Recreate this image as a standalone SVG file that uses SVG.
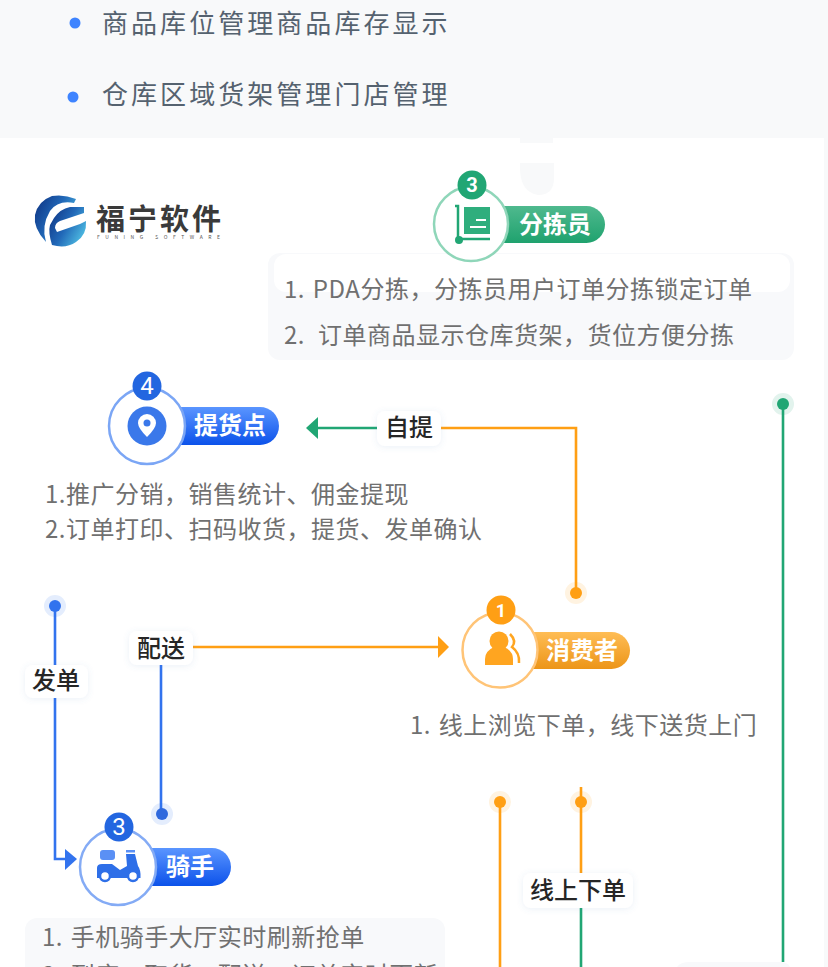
<svg xmlns="http://www.w3.org/2000/svg" width="828" height="967" viewBox="0 0 828 967">
<style>
text{font-family:"Noto Sans CJK SC","Noto Sans",sans-serif}
.top{font-size:26px;fill:#55626f;letter-spacing:3.05px}
.body{font-size:24px;fill:#707070;letter-spacing:.5px;word-spacing:2px}
.lab{font-size:24px;fill:#262626;font-weight:500;text-anchor:middle}
.pill{font-size:24px;fill:#fff;font-weight:700;text-anchor:middle}
.badge{fill:#fff;text-anchor:middle;font-family:"Roboto",sans-serif}
.ln{fill:none;stroke-width:2.6}
.o{stroke:#ff9f14}.g{stroke:#21a674}.b{stroke:#3273ee}
.ring{fill:#fff;stroke-width:2.5}
.panel{fill:#f8f9fb}
</style>
<defs>
<linearGradient id="pb" x1="0" y1="0" x2="0" y2="1"><stop offset="0" stop-color="#5a95ff"/><stop offset="1" stop-color="#0c52ea"/></linearGradient>
<linearGradient id="pg" x1="0" y1="0" x2="0" y2="1"><stop offset="0" stop-color="#4fb98e"/><stop offset="1" stop-color="#1fa26e"/></linearGradient>
<linearGradient id="po" x1="0" y1="0" x2="0" y2="1"><stop offset="0" stop-color="#ffbd55"/><stop offset="1" stop-color="#ec9518"/></linearGradient>
<linearGradient id="lg" x1="0" y1="0" x2="1" y2="0.6"><stop offset="0" stop-color="#0d2f7e"/><stop offset=".55" stop-color="#2168b8"/><stop offset="1" stop-color="#4cb8e0"/></linearGradient>
<filter id="sh" x="-20%" y="-30%" width="140%" height="160%"><feDropShadow dx="0" dy="1" stdDeviation="3" flood-color="#5b7fc0" flood-opacity=".12"/></filter>
</defs>

<rect width="828" height="967" fill="#f8f9fa"/>
<rect x="0" y="138" width="824" height="829" fill="#fff"/>
<rect x="520" y="138" width="33" height="5" fill="#f8f9fa"/>
<path d="M520 163H554V178Q554 195 538 195Q521 192 520 170Z" fill="#f8f9fa"/>

<g id="intro">
<circle cx="75" cy="23" r="5.500" fill="#3e84ff"/>
<text class="top" x="102" y="33">商品库位管理商品库存显示</text>
<circle cx="73" cy="97" r="5.500" fill="#3e84ff"/>
<text class="top" x="102" y="104">仓库区域货架管理门店管理</text>
</g>

<g id="logo">
<path d="M52 196Q64 194 76 199L74 203Q58 200 50 211Q41 226 46 242Q33 228 35 215Q38 201 52 196Z" fill="url(#lg)"/>
<path d="M54 218Q60 209 70 207L84 207L84 213L60 221Q55 223 55 228L57 232L80 224L86 221Q87 235 76 242Q66 249 52 245Q48 232 50 225Z" fill="url(#lg)"/>
<text x="96" y="230" font-size="29" font-weight="700" fill="#3a3a3a" textLength="125" lengthAdjust="spacing">福宁软件</text>
<text x="97" y="239" font-size="5" fill="#555" textLength="123" lengthAdjust="spacing">FUNING SOFTWARE</text>
</g>

<g id="connectors">
<path class="ln g" d="M377 428H316"/>
<path d="M306 428L318 417V439Z" fill="#21a674"/>
<path class="ln o" d="M441 428H576V593"/>
<circle cx="576" cy="593" r="11" fill="#ff9f14" fill-opacity=".13"/>
<circle cx="576" cy="593" r="6" fill="#ff9f14"/>
<circle cx="783" cy="404" r="11" fill="#21a674" fill-opacity=".13"/>
<circle cx="783" cy="404" r="6" fill="#21a674"/>
<path class="ln g" d="M783 404V962"/>
<circle cx="55" cy="606" r="11" fill="#3273ee" fill-opacity=".13"/>
<circle cx="55" cy="606" r="6" fill="#3273ee"/>
<path class="ln b" d="M55 606V859H68"/>
<path d="M77 859L65 849V870Z" fill="#3273ee"/>
<path class="ln o" d="M193 647H440"/>
<path d="M449 647L438 636V658Z" fill="#ff9f14"/>
<path class="ln b" d="M161 665V814"/>
<circle cx="162" cy="814" r="11" fill="#3273ee" fill-opacity=".13"/>
<circle cx="162" cy="814" r="6" fill="#2f69dd"/>
<circle cx="500" cy="802" r="11" fill="#ff9f14" fill-opacity=".13"/>
<circle cx="500" cy="802" r="6" fill="#ff9f14"/>
<path class="ln o" d="M500 802V967"/>
<circle cx="581" cy="802" r="11" fill="#ff9f14" fill-opacity=".13"/>
<circle cx="581" cy="802" r="6" fill="#ff9f14"/>
<path class="ln o" d="M581 787V873"/>
<path class="ln g" d="M581 908V967"/>
</g>

<g id="label-ziti"><rect x="377" y="411" width="64" height="35" rx="8" fill="#fff" filter="url(#sh)"/><text class="lab" x="409" y="436">自提</text></g>
<g id="label-peisong"><rect x="129" y="631" width="64" height="34" rx="8" fill="#fff" filter="url(#sh)"/><text class="lab" x="161" y="657">配送</text></g>
<g id="label-fadan"><rect x="25" y="665" width="63" height="33" rx="8" fill="#fff" filter="url(#sh)"/><text class="lab" x="56" y="689">发单</text></g>
<g id="label-xianshang"><rect x="523" y="873" width="110" height="35" rx="8" fill="#fff" filter="url(#sh)"/><text class="lab" x="578" y="899">线上下单</text></g>

<g id="node-sorter">
<rect class="panel" x="268" y="253" width="526" height="107" rx="12"/>
<rect x="274" y="254" width="516" height="38" rx="12" fill="#fff"/>
<rect x="480" y="206" width="125" height="37" rx="18.500" fill="url(#pg)"/>
<circle class="ring" cx="471" cy="224" r="37" stroke="#8fd6b9"/>
<circle cx="472" cy="185" r="14.500" fill="#21a674"/>
<text class="badge" font-size="20" font-weight="700" x="472" y="192">3</text>
<path d="M455 206H458V240M459 239H490" fill="none" stroke="#21a674" stroke-width="2.500"/>
<circle cx="459" cy="240" r="4" fill="#21a674"/>
<rect x="464" y="207" width="26" height="27" fill="#2fae7d"/>
<path d="M476 220H486M470 227H486" stroke="#fff" stroke-width="2"/>
<text class="pill" x="555" y="233">分拣员</text>
<text class="body" x="284" y="298">1. PDA分拣，分拣员用户订单分拣锁定订单</text>
<text class="body" x="284" y="344">2.<tspan x="318">订单商品显示仓库货架，货位方便分拣</tspan></text>
</g>

<g id="node-pickup">
<rect x="155" y="407" width="124" height="38" rx="19" fill="url(#pb)"/>
<circle class="ring" cx="147" cy="426" r="38" stroke="#7ba6f5"/>
<circle cx="147" cy="386" r="14.500" fill="#2366e0"/>
<text class="badge" font-size="24" x="147" y="394">4</text>
<circle cx="147" cy="426" r="19.500" fill="#3a78ea"/>
<path d="M147 437Q138 428 138 423A9 9 0 0 1 156 423Q156 428 147 437Z" fill="#fff"/>
<circle cx="147" cy="423" r="3.500" fill="#3a78ea"/>
<text class="pill" x="230" y="434">提货点</text>
<text class="body" x="45" y="503">1.推广分销，销售统计、佣金提现</text>
<text class="body" x="45" y="538">2.订单打印、扫码收货，提货、发单确认</text>
</g>

<g id="node-consumer">
<rect x="510" y="632" width="120" height="37" rx="18.500" fill="url(#po)"/>
<circle class="ring" cx="500" cy="650" r="37.500" stroke="#ffc477"/>
<circle cx="501" cy="610" r="14.500" fill="#ff9f14"/>
<text class="badge" font-size="18" font-weight="700" x="501" y="617">1</text>
<circle cx="499" cy="641" r="9.500" fill="#ffa520"/>
<path d="M485 665V659Q485 651 494 647H504Q513 651 513 659V665Z" fill="#ffa520"/>
<path d="M510 634Q517 641 512 647Q520 653 519 663" fill="none" stroke="#ffa520" stroke-width="2.500"/>
<text class="pill" x="582" y="659">消费者</text>
<text class="body" x="410" y="734">1. 线上浏览下单，线下送货上门</text>
</g>

<g id="node-rider">
<rect x="127" y="848" width="104" height="38" rx="19" fill="url(#pb)"/>
<circle class="ring" cx="118" cy="867" r="38" stroke="#84abf5"/>
<circle cx="119" cy="827" r="14.500" fill="#2366e0"/>
<text class="badge" font-size="24" x="119" y="835">3</text>
<rect x="100" y="850" width="15" height="10" rx="3" fill="#5a90f5"/>
<rect x="126" y="850" width="9" height="2.500" fill="#5a90f5"/>
<path d="M97 878V868Q97 864 102 864H112L120 870L127 866L126 854H135L138 866Q141 870 140.500 878Z" fill="#2e6fe8"/>
<circle cx="105" cy="876" r="5" fill="#fff" stroke="#2e6fe8" stroke-width="2.500"/>
<circle cx="133" cy="876" r="5" fill="#fff" stroke="#2e6fe8" stroke-width="2.500"/>
<text class="pill" x="190" y="875">骑手</text>
<path class="panel" d="M25 967V930A12 12 0 0 1 37 918H433A12 12 0 0 1 445 930V967Z"/>
<text class="body" x="42" y="946">1. 手机骑手大厅实时刷新抢单</text>
<text class="body" x="42" y="984">2. 到店、取货、配送、订单实时更新</text>
</g>
<path class="panel" d="M677 967Q680 962 690 962H780Q788 962 790 967Z"/>
</svg>
